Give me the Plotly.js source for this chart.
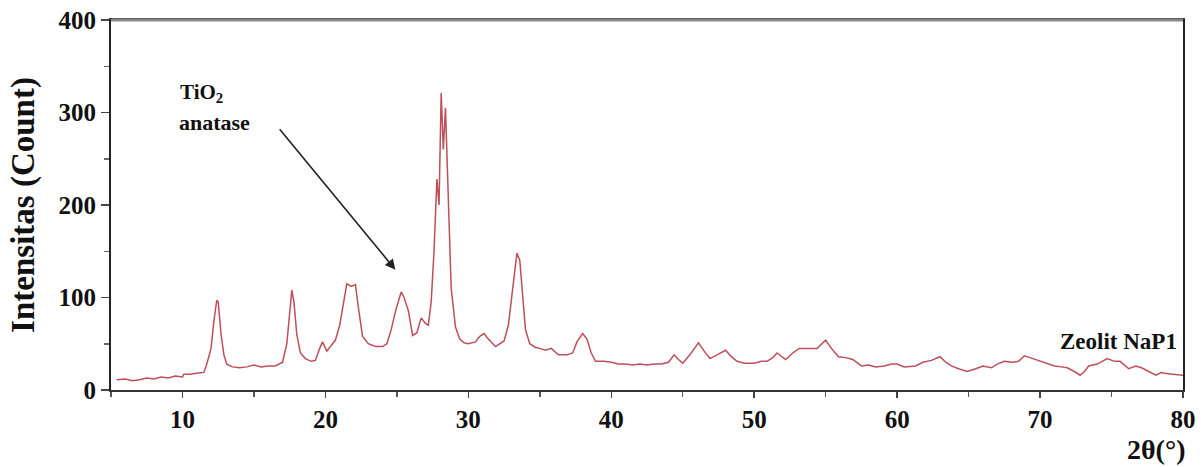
<!DOCTYPE html>
<html>
<head>
<meta charset="utf-8">
<script src="https://cdn.plot.ly/plotly-3.0.1.min.js"></script>
<style>html,body{margin:0;padding:0;background:#fff;}#chart{width:1202px;height:467px;}</style>
</head>
<body>
<div id="chart"></div>
<script>
// 2-theta positions (degrees)
const twoTheta = [5.4,6.0,6.5,7.0,7.5,8.0,8.5,9.0,9.5,10.0,10.1,10.5,11.0,11.5,11.7,12.0,12.2,12.4,12.5,12.7,12.9,13.1,13.5,14.0,14.5,15.0,15.5,16.0,16.5,17.0,17.3,17.5,17.65,17.8,18.0,18.25,18.6,19.0,19.3,19.6,19.8,20.1,20.4,20.7,21.0,21.3,21.5,21.8,22.1,22.3,22.6,23.0,23.5,24.0,24.3,24.6,24.9,25.3,25.5,25.8,26.1,26.4,26.7,27.0,27.2,27.4,27.6,27.8,27.95,28.1,28.25,28.4,28.6,28.8,29.1,29.4,29.7,30.0,30.5,30.8,31.1,31.4,31.9,32.2,32.5,32.8,33.1,33.4,33.6,33.8,34.0,34.3,34.7,35.0,35.4,35.8,36.0,36.3,36.9,37.3,37.6,38.0,38.3,38.6,38.9,39.5,40.0,40.5,41.0,41.5,42.0,42.5,43.0,43.5,44.0,44.4,44.7,45.0,45.5,46.1,46.5,46.9,47.4,48.0,48.4,48.8,49.3,50.0,50.5,50.9,51.3,51.6,52.2,52.7,53.15,53.8,54.4,55.0,55.4,55.9,56.4,56.9,57.5,58.0,58.5,59.1,59.6,60.0,60.5,61.3,61.8,62.4,63.0,63.4,63.8,64.3,64.9,65.5,66.0,66.6,67.0,67.5,68.0,68.5,68.9,69.3,69.7,70.3,71.0,71.5,71.9,72.4,72.8,73.1,73.4,74.0,74.7,75.2,75.6,76.2,76.7,77.1,77.6,78.1,78.5,78.7,79.3,80.0];
// intensity (counts)
const intensity = [11,12,10,11,13,12,14,13,15,14,17,17,18,19,28,45,75,97,95,60,38,28,25,24,25,27,25,26,26,30,50,85,108,95,60,40,34,31,32,45,52,42,48,54,70,100,115,112,114,90,58,50,47,47,50,65,85,106,100,86,59,62,78,72,70,95,150,228,200,321,260,305,200,110,68,55,51,50,52,58,61,55,47,50,53,70,110,148,140,100,65,50,46,45,43,45,42,38,38,40,52,61,55,40,31,31,30,28,28,27,28,27,28,28,30,38,33,29,38,51,42,34,38,43,36,31,29,29,31,31,35,40,33,40,45,45,45,54,45,36,35,33,26,27,25,26,28,28,25,26,30,32,36,30,26,23,20,23,26,24,28,31,30,31,37,35,33,30,26,25,24,20,16,20,26,28,34,31,31,23,26,24,20,16,19,18,17,16];

const xTickVals = [10,20,30,40,50,60,70,80];
const yTickVals = [0,100,200,300,400];

const SERIF = 'Liberation Serif';
const tickFont = {family: SERIF, size: 25, color: '#111', weight: 'bold'};

const trace = {
  x: twoTheta, y: intensity, type: 'scatter', mode: 'lines',
  line: {color: 'rgba(185,70,80,0.95)', width: 1.5},
  hoverinfo: 'skip', showlegend: false
};

const layout = {
  width: 1202, height: 467,
  margin: {l: 111, r: 19, t: 20, b: 77},
  paper_bgcolor: '#ffffff', plot_bgcolor: '#ffffff',
  xaxis: {
    range: [5, 80], tickvals: xTickVals, ticktext: xTickVals.map(String),
    ticks: 'outside', ticklen: 6, tickwidth: 1.5, tickcolor: '#444',
    minor: {dtick: 5, tick0: 0, ticks: 'outside', ticklen: 5, tickcolor: '#555', showgrid: false},
    showgrid: false, zeroline: false, showline: true, linecolor: '#333', linewidth: 2, mirror: true,
    tickfont: tickFont, fixedrange: true
  },
  yaxis: {
    range: [0, 400], tickvals: yTickVals, ticktext: yTickVals.map(String),
    ticks: 'outside', ticklen: 8, tickwidth: 1.5, tickcolor: '#444',
    minor: {dtick: 50, tick0: 0, ticks: 'outside', ticklen: 5, tickcolor: '#666', showgrid: false},
    showgrid: false, zeroline: false, showline: true, linecolor: '#222', linewidth: 2, mirror: true,
    tickfont: tickFont, fixedrange: true,
    title: {text: 'Intensitas (Count)', standoff: 14,
            font: {family: SERIF, size: 33, color: '#111', weight: 'bold'}}
  },
  shapes: [
    {type: 'line', xref: 'paper', yref: 'paper', x0: 0, x1: 1, y0: 1, y1: 1,
     line: {color: '#888', width: 3}}
  ],
  annotations: [
    {x: 9.69, y: 321, xref: 'x', yref: 'y', text: 'TiO<sub>2</sub>', showarrow: false,
     xanchor: 'left', yanchor: 'middle',
     font: {family: SERIF, size: 21, color: '#111', weight: 'bold'}},
    {x: 9.6, y: 289, xref: 'x', yref: 'y', text: 'anatase', showarrow: false,
     xanchor: 'left', yanchor: 'middle',
     font: {family: SERIF, size: 22, color: '#111', weight: 'bold'}},
    {x: 24.9, y: 130, xref: 'x', yref: 'y', text: '', showarrow: true,
     ax: -117, ay: -142, arrowhead: 2, arrowsize: 1.3, arrowwidth: 1.6, arrowcolor: '#222'},
    {x: 79.7, y: 52, xref: 'x', yref: 'y', text: 'Zeolit NaP1', showarrow: false,
     xanchor: 'right', yanchor: 'middle',
     font: {family: SERIF, size: 23, color: '#111', weight: 'bold'}},
    {x: 1.004, y: -0.162, xref: 'paper', yref: 'paper', text: '2θ(°)', showarrow: false,
     xanchor: 'right', yanchor: 'middle',
     font: {family: SERIF, size: 28, color: '#111', weight: 'bold'}}
  ]
};

Plotly.newPlot('chart', [trace], layout, {displayModeBar: false, staticPlot: true});
</script>
</body>
</html>
